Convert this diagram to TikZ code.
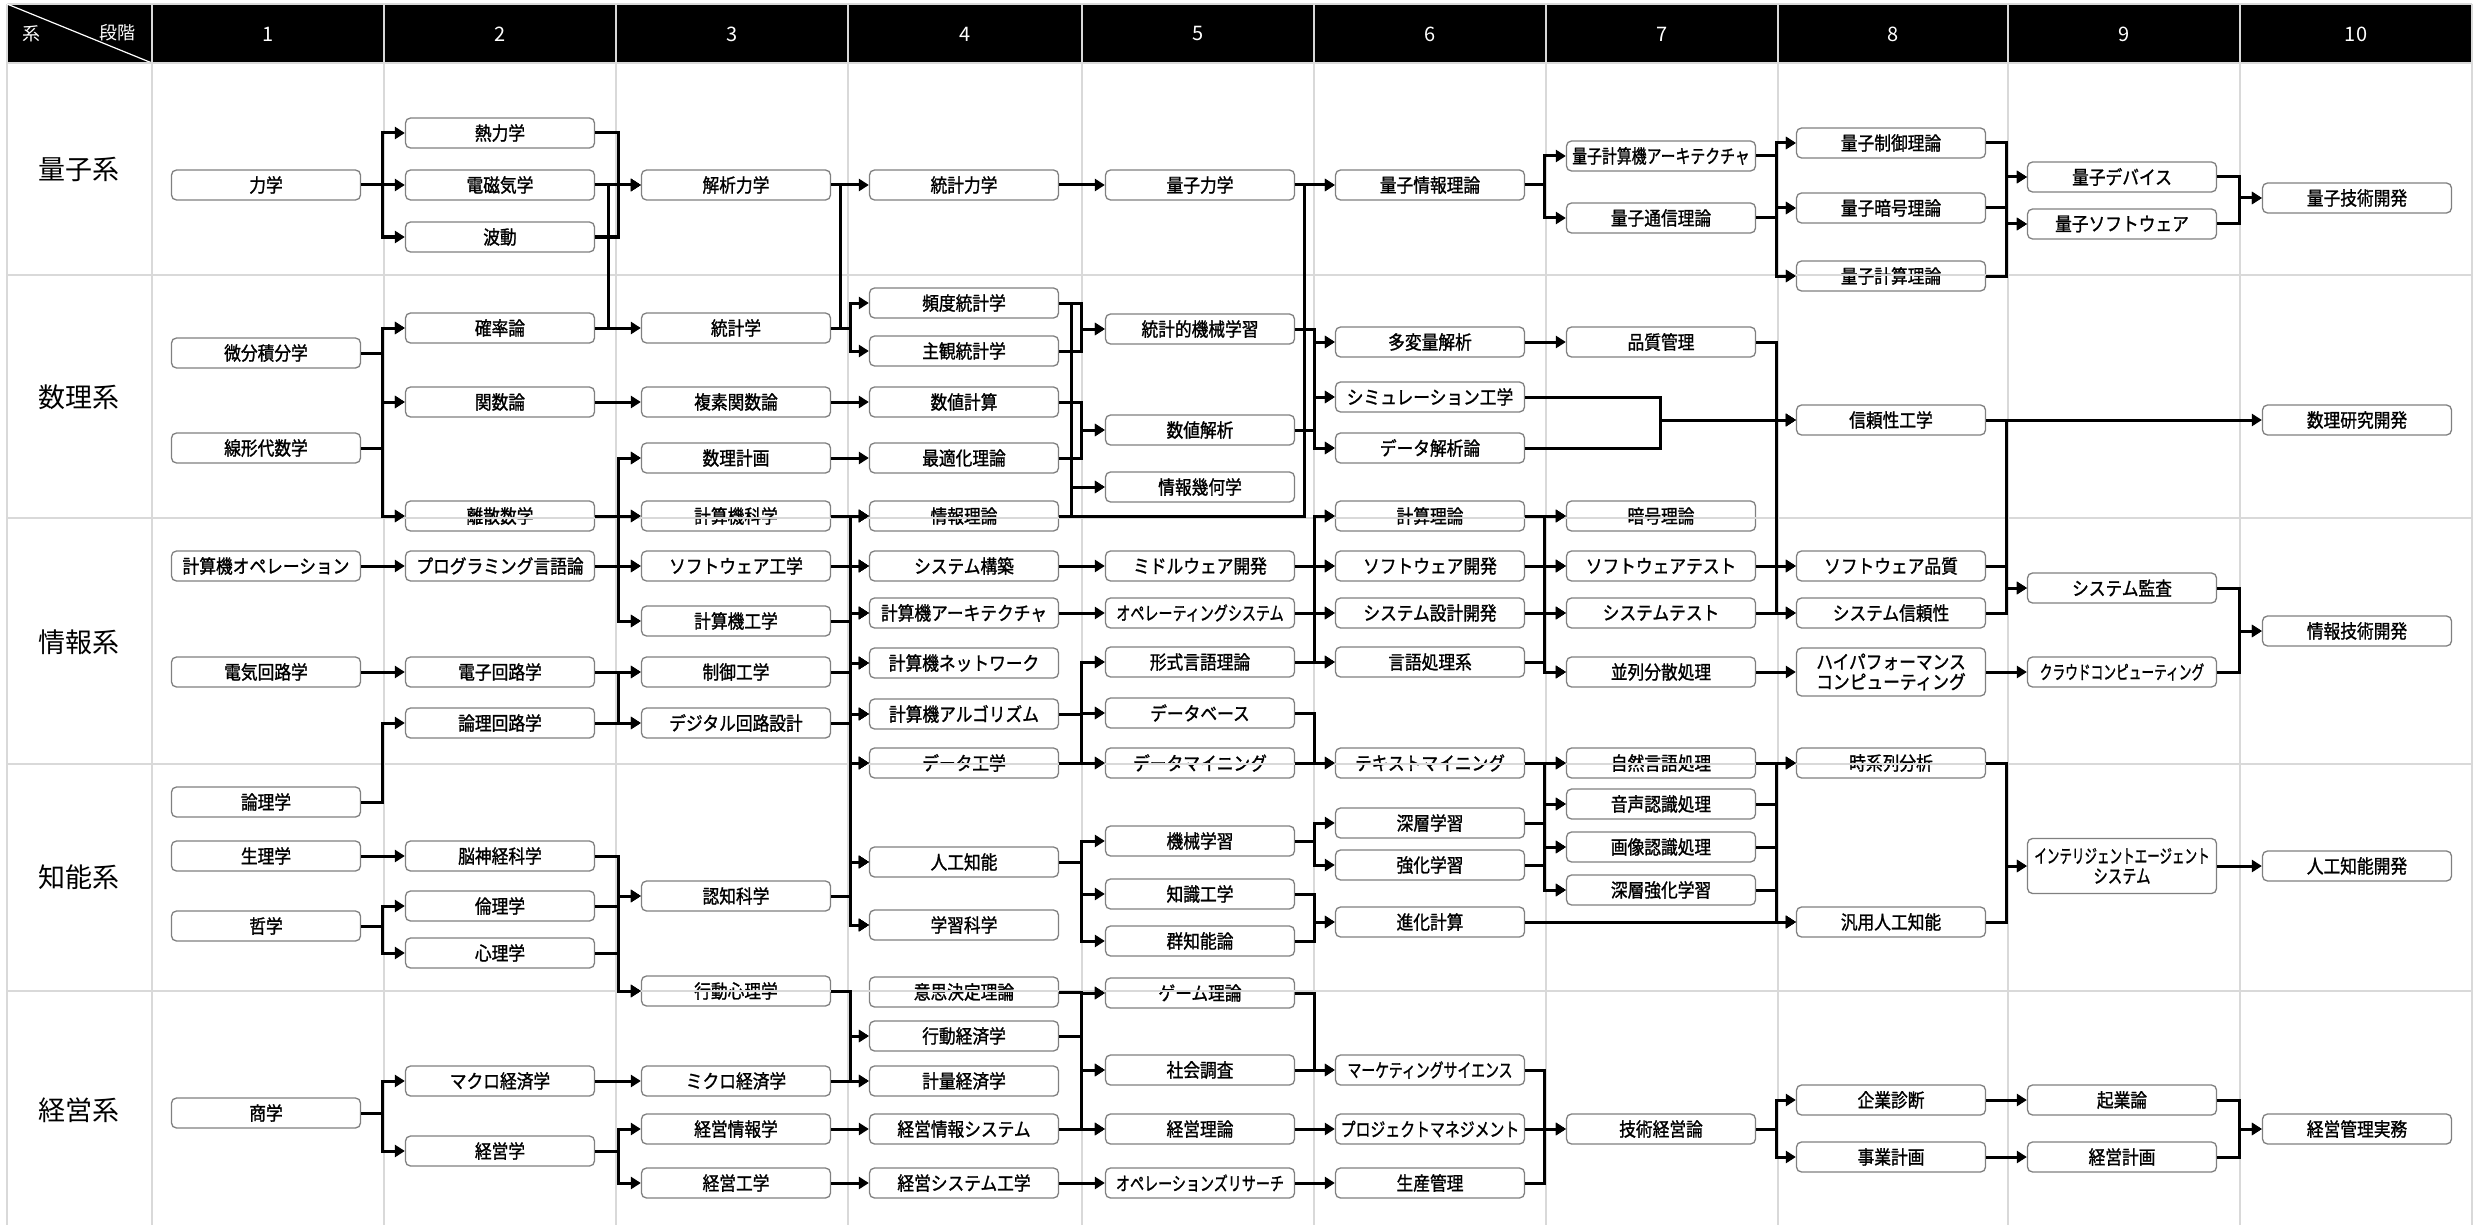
\documentclass[tikz,border=0pt]{standalone}
\usepackage{fontspec}
\usepackage{graphicx}
\setmainfont{Noto Sans CJK JP}
\newfontfamily\boxfont{Noto Sans CJK JP}[FakeStretch=0.88,FakeBold=1.2]
\usetikzlibrary{arrows.meta}
\newcommand\sqz[2]{\scalebox{#1}[1]{#2}}
\newcommand\mybus[3]{\foreach \s in {#1} {\foreach \t in {#2} {\draw[conn] (\s.east) -| (\t.west -| #3) -- (\t.west);}}}
\newcommand\mystraight[2]{\draw[conn] (#1.east) -- (#2.west);}
\begin{document}
\begin{tikzpicture}[x=1pt,y=-1pt,
 box/.style={draw=black!50, line width=1.3pt, rounded corners=5pt, fill=white, minimum width=189pt, minimum height=30pt, inner sep=0pt, font=\boxfont\fontsize{19}{20}\selectfont, align=center},
 conn/.style={line width=3pt, -{Triangle[length=10pt,width=12pt]}},
 plain/.style={line width=3pt},
 gridl/.style={draw=black!15, line width=1.5pt},
 rowlab/.style={font=\fontsize{27}{30}\selectfont},
 head/.style={text=white, font=\fontsize{20}{22}\selectfont}]
\useasboundingbox (0,0) rectangle (2476,1225);
% header
\fill[black] (7,4) rectangle (2472,63);
\foreach \x in {152,384,616,848,1082,1314,1546,1778,2008,2240} \draw[gridl] (\x,4) -- (\x,1225);
\draw[gridl] (7,4) -- (7,1225);
\draw[gridl] (2472,4) -- (2472,1225);
\draw[gridl] (7,4) -- (2472,4);
\draw[white, line width=1.2pt] (7,4) -- (152,63);
\node[text=white, font=\fontsize{18}{20}\selectfont] (hk) at (32,34) {系};
\node[text=white, font=\fontsize{18}{20}\selectfont] (hd) at (117,33) {段階};
\foreach \i/\x in {1/268,2/500,3/732,4/965,5/1198,6/1430,7/1662,8/1893,9/2124,10/2356}
  \node[head] (hd\i) at (\x,34) {\i};
% row labels
\node[rowlab] (r1) at (79,169) {量子系};
\node[rowlab] (r2) at (79,397) {数理系};
\node[rowlab] (r3) at (79,642) {情報系};
\node[rowlab] (r4) at (79,877) {知能系};
\node[rowlab] (r5) at (79,1110) {経営系};
% column 1
\node[box] (n11) at (266,185) {力学};
\node[box] (n12) at (266,353) {微分積分学};
\node[box] (n13) at (266,448) {線形代数学};
\node[box] (n14) at (266,566) {計算機オペレーション};
\node[box] (n15) at (266,672) {電気回路学};
\node[box] (n16) at (266,802) {論理学};
\node[box] (n17) at (266,856) {生理学};
\node[box] (n18) at (266,926) {哲学};
\node[box] (n19) at (266,1113) {商学};
% column 2
\node[box] (a1) at (500,133) {熱力学};
\node[box] (a2) at (500,185) {電磁気学};
\node[box] (a3) at (500,237) {波動};
\node[box] (a4) at (500,328) {確率論};
\node[box] (a5) at (500,402) {関数論};
\node[box] (a6) at (500,516) {離散数学};
\node[box] (a7) at (500,566) {プログラミング言語論};
\node[box] (a8) at (500,672) {電子回路学};
\node[box] (a9) at (500,723) {論理回路学};
\node[box] (a10) at (500,856) {脳神経科学};
\node[box] (a11) at (500,906) {倫理学};
\node[box] (a12) at (500,953) {心理学};
\node[box] (a13) at (500,1081) {マクロ経済学};
\node[box] (a14) at (500,1151) {経営学};
% column 3
\node[box] (b1) at (736,185) {解析力学};
\node[box] (b2) at (736,328) {統計学};
\node[box] (b3) at (736,402) {複素関数論};
\node[box] (b4) at (736,458) {数理計画};
\node[box] (b5) at (736,516) {計算機科学};
\node[box] (b6) at (736,566) {ソフトウェア工学};
\node[box] (b7) at (736,621) {計算機工学};
\node[box] (b8) at (736,672) {制御工学};
\node[box] (b9) at (736,723) {デジタル回路設計};
\node[box] (b10) at (736,896) {認知科学};
\node[box] (b11) at (736,991) {行動心理学};
\node[box] (b12) at (736,1081) {ミクロ経済学};
\node[box] (b13) at (736,1129) {経営情報学};
\node[box] (b14) at (736,1183) {経営工学};
% column 4
\node[box] (c1) at (964,185) {統計力学};
\node[box] (c2) at (964,303) {頻度統計学};
\node[box] (c3) at (964,351) {主観統計学};
\node[box] (c4) at (964,402) {数値計算};
\node[box] (c5) at (964,458) {最適化理論};
\node[box] (c6) at (964,516) {情報理論};
\node[box] (c7) at (964,566) {システム構築};
\node[box] (c8) at (964,613) {計算機アーキテクチャ};
\node[box] (c9) at (964,663) {計算機ネットワーク};
\node[box] (c10) at (964,714) {計算機アルゴリズム};
\node[box] (c11) at (964,763) {データ工学};
\node[box] (c12) at (964,862) {人工知能};
\node[box] (c13) at (964,925) {学習科学};
\node[box] (c14) at (964,992) {意思決定理論};
\node[box] (c15) at (964,1036) {行動経済学};
\node[box] (c16) at (964,1081) {計量経済学};
\node[box] (c17) at (964,1129) {経営情報システム};
\node[box] (c18) at (964,1183) {経営システム工学};
% column 5
\node[box] (d1) at (1200,185) {量子力学};
\node[box] (d2) at (1200,329) {統計的機械学習};
\node[box] (d3) at (1200,430) {数値解析};
\node[box] (d4) at (1200,487) {情報幾何学};
\node[box] (d5) at (1200,566) {ミドルウェア開発};
\node[box] (d6) at (1200,613) {\sqz{0.84}{オペレーティングシステム}};
\node[box] (d7) at (1200,662) {形式言語理論};
\node[box] (d8) at (1200,713) {データベース};
\node[box] (d9) at (1200,763) {データマイニング};
\node[box] (d10) at (1200,841) {機械学習};
\node[box] (d11) at (1200,894) {知識工学};
\node[box] (d12) at (1200,941) {群知能論};
\node[box] (d13) at (1200,993) {ゲーム理論};
\node[box] (d14) at (1200,1070) {社会調査};
\node[box] (d15) at (1200,1129) {経営理論};
\node[box] (d16) at (1200,1183) {\sqz{0.84}{オペレーションズリサーチ}};
% column 6
\node[box] (e1) at (1430,185) {量子情報理論};
\node[box] (e2) at (1430,342) {多変量解析};
\node[box] (e3) at (1430,397) {シミュレーション工学};
\node[box] (e4) at (1430,448) {データ解析論};
\node[box] (e5) at (1430,516) {計算理論};
\node[box] (e6) at (1430,566) {ソフトウェア開発};
\node[box] (e7) at (1430,613) {システム設計開発};
\node[box] (e8) at (1430,662) {言語処理系};
\node[box] (e9) at (1430,763) {テキストマイニング};
\node[box] (e10) at (1430,823) {深層学習};
\node[box] (e11) at (1430,865) {強化学習};
\node[box] (e12) at (1430,922) {進化計算};
\node[box] (e13) at (1430,1070) {\sqz{0.83}{マーケティングサイエンス}};
\node[box] (e14) at (1430,1129) {\sqz{0.89}{プロジェクトマネジメント}};
\node[box] (e15) at (1430,1183) {生産管理};
% column 7
\node[box] (f1) at (1661,156) {\sqz{0.89}{量子計算機アーキテクチャ}};
\node[box] (f2) at (1661,218) {量子通信理論};
\node[box] (f3) at (1661,342) {品質管理};
\node[box] (f4) at (1661,516) {暗号理論};
\node[box] (f5) at (1661,566) {ソフトウェアテスト};
\node[box] (f6) at (1661,613) {システムテスト};
\node[box] (f7) at (1661,672) {並列分散処理};
\node[box] (f8) at (1661,763) {自然言語処理};
\node[box] (f9) at (1661,804) {音声認識処理};
\node[box] (f10) at (1661,847) {画像認識処理};
\node[box] (f11) at (1661,890) {深層強化学習};
\node[box] (f12) at (1661,1129) {技術経営論};
% column 8
\node[box] (g1) at (1891,143) {量子制御理論};
\node[box] (g2) at (1891,208) {量子暗号理論};
\node[box] (g3) at (1891,276) {量子計算理論};
\node[box] (g4) at (1891,420) {信頼性工学};
\node[box] (g5) at (1891,566) {ソフトウェア品質};
\node[box] (g6) at (1891,613) {システム信頼性};
\node[box, minimum height=48pt] (g7) at (1891,672) {ハイパフォーマンス\\コンピューティング};
\node[box] (g8) at (1891,763) {時系列分析};
\node[box] (g9) at (1891,922) {汎用人工知能};
\node[box] (g10) at (1891,1100) {企業診断};
\node[box] (g11) at (1891,1157) {事業計画};
% column 9
\node[box] (h1) at (2122,177) {量子デバイス};
\node[box] (h2) at (2122,224) {量子ソフトウェア};
\node[box] (h3) at (2122,588) {システム監査};
\node[box] (h4) at (2122,672) {\sqz{0.76}{クラウドコンピューティング}};
\node[box, minimum height=55pt] (h5) at (2122,866) {\sqz{0.75}{インテリジェントエージェント}\\\sqz{0.86}{システム}};
\node[box] (h6) at (2122,1100) {起業論};
\node[box] (h7) at (2122,1157) {経営計画};
% column 10
\node[box] (i1) at (2357,198) {量子技術開発};
\node[box] (i2) at (2357,420) {数理研究開発};
\node[box] (i3) at (2357,631) {情報技術開発};
\node[box] (i4) at (2357,866) {人工知能開発};
\node[box] (i5) at (2357,1129) {経営管理実務};
% horizontal row lines (drawn over boxes as in the reference)
\foreach \y in {63,275,518,764,991} \draw[gridl] (7,\y) -- (2472,\y);
% bus coordinates
\coordinate (X12) at (382,0);
\coordinate (X23) at (618,0);
\coordinate (X23b) at (608,0);
\coordinate (X34) at (850,0);
\coordinate (X34b) at (840,0);
\coordinate (X45) at (1081,0);
\coordinate (X45b) at (1071,0);
\coordinate (X56) at (1314,0);
\coordinate (X56b) at (1304,0);
\coordinate (X67) at (1544,0);
\coordinate (X67b) at (1660,0);
\coordinate (X78) at (1776,0);
\coordinate (X89) at (2006,0);
\coordinate (X910) at (2239,0);
% col1 -> col2
\mybus{n11}{a1,a2,a3}{X12}
\mybus{n12,n13}{a4,a5,a6}{X12}
\mystraight{n14}{a7}
\mystraight{n15}{a8}
\mybus{n16}{a9}{X12}
\mystraight{n17}{a10}
\mybus{n18}{a11,a12}{X12}
\mybus{n19}{a13,a14}{X12}
% col2 -> col3
\mybus{a1,a2,a3}{b1}{X23}
\mybus{a4}{b1}{X23b}
\mystraight{a4}{b2}
\mystraight{a5}{b3}
\mybus{a6,a7}{b4,b5,b6,b7}{X23}
\mybus{a8,a9}{b8,b9}{X23}
\mybus{a10,a11,a12}{b10,b11}{X23}
\mystraight{a13}{b12}
\mybus{a14}{b13,b14}{X23}
% col3 -> col4
\mystraight{b1}{c1}
\draw[plain] (b1.east -| X34b) -- (b2.east -| X34b);
\mybus{b2}{c2,c3}{X34}
\mystraight{b3}{c4}
\mystraight{b4}{c5}
\mybus{b5,b6,b7,b8,b9,b10}{c6,c7,c8,c9,c10,c11,c12,c13}{X34}
\mybus{b11,b12}{c15,c16}{X34}
\mystraight{b13}{c17}
\mystraight{b14}{c18}
% col4 -> col5
\mystraight{c1}{d1}
\mybus{c2,c3}{d2}{X45}
\mybus{c2,c6}{d4}{X45b}
\mybus{c4,c5}{d3}{X45}
\mybus{c6}{e1}{X56b}
\mystraight{c7}{d5}
\mystraight{c8}{d6}
\mybus{c10,c11}{d7,d8,d9}{X45}
\mybus{c12}{d10,d11,d12}{X45}
\mybus{c14,c15,c17}{d13,d14,d15}{X45}
\mystraight{c18}{d16}
% col5 -> col6
\mystraight{d1}{e1}
\mybus{d2,d3}{e2,e3,e4}{X56}
\mybus{d5,d6,d7}{e5,e6,e7,e8}{X56}
\mybus{d8,d9}{e9}{X56}
\mybus{d10}{e10,e11}{X56}
\mybus{d11,d12}{e12}{X56}
\mybus{d13,d14}{e13}{X56}
\mystraight{d15}{e14}
\mystraight{d16}{e15}
% col6 -> col7
\mybus{e1}{f1,f2}{X67}
\mystraight{e2}{f3}
\mybus{e3,e4}{g4}{X67b}
\mybus{e5,e6,e7,e8}{f4,f5,f6,f7}{X67}
\mybus{e9,e10,e11}{f8,f9,f10,f11}{X67}
\mystraight{e12}{g9}
\mybus{e13,e14,e15}{f12}{X67}
% col7 -> col8
\mybus{f1,f2}{g1,g2,g3}{X78}
\mybus{f3,f5,f6}{g4,g5,g6}{X78}
\mystraight{f7}{g7}
\mybus{f8,f9,f10,f11}{g8,g9}{X78}
\mybus{f12}{g10,g11}{X78}
% col8 -> col9
\mybus{g1,g2,g3}{h1,h2}{X89}
\mystraight{g4}{i2}
\mybus{g4,g5,g6}{h3}{X89}
\mystraight{g7}{h4}
\mybus{g8,g9}{h5}{X89}
\mystraight{g10}{h6}
\mystraight{g11}{h7}
% col9 -> col10
\mybus{h1,h2}{i1}{X910}
\mybus{h3,h4}{i3}{X910}
\mystraight{h5}{i4}
\mybus{h6,h7}{i5}{X910}
\end{tikzpicture}
\end{document}
